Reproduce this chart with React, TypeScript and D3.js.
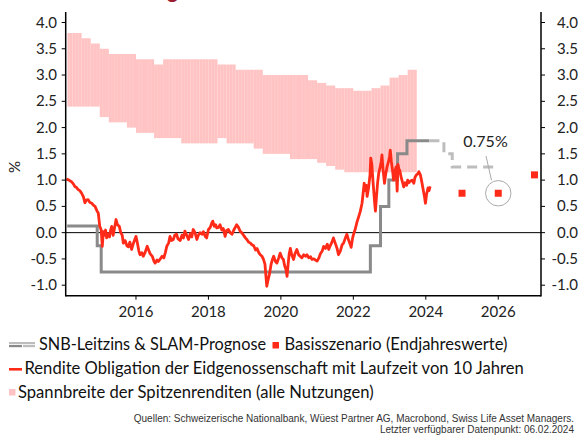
import { useEffect, useRef } from 'react'
import * as d3 from 'd3'

const W = 581
const H = 435

// Rendite Obligation der Eidgenossenschaft 10J (decimal year, %)
const bondDates = [
  2014.08, 2014.15, 2014.22, 2014.28, 2014.31, 2014.36, 2014.4, 2014.45, 2014.5, 2014.55, 2014.59, 2014.63,
  2014.68, 2014.72, 2014.78, 2014.83, 2014.87, 2014.92, 2014.96, 2015.0, 2015.04, 2015.07, 2015.1, 2015.13,
  2015.16, 2015.19, 2015.23, 2015.27, 2015.3, 2015.33, 2015.37, 2015.41, 2015.45, 2015.49, 2015.54, 2015.58,
  2015.62, 2015.65, 2015.7, 2015.75, 2015.79, 2015.83, 2015.88, 2015.93, 2016.0, 2016.04, 2016.08, 2016.11,
  2016.16, 2016.2, 2016.25, 2016.31, 2016.35, 2016.39, 2016.45, 2016.5, 2016.53, 2016.58, 2016.62, 2016.66,
  2016.72, 2016.77, 2016.81, 2016.85, 2016.9, 2016.94, 2016.98, 2017.03, 2017.07, 2017.12, 2017.16, 2017.22,
  2017.27, 2017.31, 2017.35, 2017.4, 2017.45, 2017.5, 2017.54, 2017.58, 2017.63, 2017.68, 2017.72, 2017.77,
  2017.82, 2017.86, 2017.91, 2017.95, 2018.0, 2018.05, 2018.09, 2018.12, 2018.16, 2018.2, 2018.23, 2018.28,
  2018.32, 2018.37, 2018.41, 2018.46, 2018.5, 2018.55, 2018.6, 2018.65, 2018.7, 2018.74, 2018.78, 2018.83,
  2018.88, 2018.92, 2018.97, 2019.02, 2019.06, 2019.11, 2019.16, 2019.2, 2019.25, 2019.3, 2019.34, 2019.39,
  2019.43, 2019.48, 2019.52, 2019.56, 2019.59, 2019.61, 2019.64, 2019.69, 2019.73, 2019.77, 2019.8, 2019.85,
  2019.89, 2019.94, 2019.98, 2020.03, 2020.07, 2020.1, 2020.14, 2020.17, 2020.2, 2020.23, 2020.26, 2020.3,
  2020.35, 2020.39, 2020.44, 2020.49, 2020.53, 2020.58, 2020.63, 2020.68, 2020.72, 2020.77, 2020.82, 2020.86,
  2020.91, 2020.95, 2021.0, 2021.05, 2021.09, 2021.14, 2021.18, 2021.23, 2021.28, 2021.32, 2021.36, 2021.41,
  2021.45, 2021.5, 2021.55, 2021.59, 2021.64, 2021.69, 2021.73, 2021.78, 2021.82, 2021.86, 2021.9, 2021.94,
  2021.98, 2022.02, 2022.05, 2022.1, 2022.15, 2022.19, 2022.24, 2022.27, 2022.3, 2022.33, 2022.36, 2022.38,
  2022.42, 2022.46, 2022.48, 2022.51, 2022.54, 2022.56, 2022.59, 2022.61, 2022.64, 2022.67, 2022.7, 2022.74,
  2022.77, 2022.79, 2022.82, 2022.86, 2022.89, 2022.93, 2022.97, 2023.0, 2023.02, 2023.05, 2023.08, 2023.11,
  2023.14, 2023.18, 2023.21, 2023.23, 2023.26, 2023.28, 2023.32, 2023.36, 2023.39, 2023.43, 2023.47, 2023.5,
  2023.53, 2023.57, 2023.62, 2023.67, 2023.7, 2023.74, 2023.78, 2023.81, 2023.85, 2023.88, 2023.92, 2023.96,
  2023.99, 2024.02, 2024.06, 2024.09, 2024.12,
]
const bondValues = [
  1.02, 1.0, 0.97, 0.92, 0.88, 0.86, 0.82, 0.8, 0.75, 0.68, 0.57, 0.62,
  0.63, 0.58, 0.56, 0.52, 0.5, 0.42, 0.37, 0.12, 0.05, -0.26, 0.02, -0.05,
  0.05, -0.1, -0.02, -0.08, 0.05, 0.12, -0.05, 0.1, 0.25, 0.15, 0.12, 0.0,
  -0.05, -0.2, -0.15, -0.25, -0.27, -0.18, -0.32, -0.2, -0.07, -0.2, -0.35, -0.42,
  -0.38, -0.45, -0.38, -0.26, -0.33, -0.4, -0.45, -0.55, -0.58, -0.52, -0.55, -0.51,
  -0.45, -0.48, -0.38, -0.26, -0.2, -0.07, -0.15, -0.13, -0.05, -0.03, -0.12, -0.15,
  -0.05, -0.1, 0.03, -0.05, -0.13, -0.02, -0.08, 0.06, 0.0, -0.13, -0.05, 0.0,
  -0.03, 0.02, -0.07, -0.1, 0.06, 0.1, 0.18, 0.22, 0.12, 0.15, 0.09, 0.1,
  0.15, 0.05, 0.08, -0.07, 0.04, 0.06, 0.0, -0.03, 0.05, 0.1, 0.15, 0.1,
  0.02, 0.0, -0.05, -0.1, -0.13, -0.18, -0.2, -0.23, -0.25, -0.33, -0.3, -0.38,
  -0.42, -0.45, -0.51, -0.6, -0.85, -1.02, -0.92, -0.77, -0.6, -0.5, -0.45, -0.55,
  -0.58, -0.48, -0.39, -0.48, -0.51, -0.62, -0.7, -0.83, -0.6, -0.4, -0.3, -0.42,
  -0.51, -0.4, -0.32, -0.42, -0.45, -0.48, -0.42, -0.45, -0.42, -0.48, -0.46, -0.51,
  -0.5, -0.52, -0.54, -0.48, -0.4, -0.35, -0.26, -0.3, -0.22, -0.32, -0.25, -0.18,
  -0.1, -0.2, -0.3, -0.42, -0.35, -0.23, -0.2, -0.1, -0.03, -0.12, -0.2, -0.28,
  -0.1, 0.0, 0.06, 0.2, 0.31, 0.4, 0.56, 0.75, 0.94, 0.8, 0.9, 0.69,
  0.85, 1.1, 1.42, 1.3, 1.0, 0.82, 0.55, 0.41, 0.7, 0.95, 1.13, 1.25,
  1.35, 1.48, 1.2, 0.94, 1.1, 1.25, 1.35, 1.45, 1.57, 1.35, 1.2, 1.0,
  1.15, 1.25, 0.79, 1.3, 1.2, 1.19, 1.05, 0.95, 0.87, 0.95, 0.9, 1.0,
  0.95, 0.98, 1.0, 0.94, 1.05, 1.1, 1.12, 1.16, 1.1, 1.0, 0.85, 0.7,
  0.56, 0.72, 0.85, 0.8, 0.88,
]

// SNB-Leitzins
const snbDates = [2014.1, 2014.93, 2015.04, 2022.47, 2022.75, 2022.98, 2023.22, 2023.48, 2024.1]
const snbValues = [0.125, -0.25, -0.75, -0.25, 0.5, 1.0, 1.5, 1.75, 1.75]

// SLAM-Prognose
const fcDates = [2024.1, 2024.5, 2024.73, 2026.0]
const fcValues = [1.75, 1.5, 1.25, 1.25]

// Basisszenario (Endjahreswerte)
const baseYears = [2025, 2026, 2027]
const baseValues = [0.75, 0.75, 1.1]

// Spannbreite der Spitzenrenditen, quarterly from 2014 Q1
const bandStart = 2014
const bandHigh = [
  3.8, 3.8, 3.7, 3.6, 3.5, 3.4, 3.4, 3.4, 3.3, 3.3, 3.2, 3.3, 3.3, 3.3, 3.3, 3.3,
  3.3, 3.2, 3.2, 3.1, 3.1, 3.1, 3.0, 3.0, 3.0, 3.0, 3.0, 2.9, 2.85, 2.8, 2.75, 2.75,
  2.7, 2.7, 2.75, 2.8, 2.95, 3.0, 3.1,
]
const bandLow = [
  2.4, 2.4, 2.4, 2.4, 2.2, 2.1, 2.1, 2.0, 1.9, 1.9, 1.8, 1.8, 1.8, 1.7, 1.7, 1.7,
  1.7, 1.8, 1.7, 1.7, 1.7, 1.6, 1.5, 1.5, 1.5, 1.4, 1.4, 1.4, 1.33, 1.27, 1.2, 1.15,
  1.15, 1.15, 1.15, 1.15, 1.15, 1.15, 1.15,
]

const yTicks = [-1, -0.5, 0, 0.5, 1, 1.5, 2, 2.5, 3, 3.5, 4]
const xTicks = [2016, 2018, 2020, 2022, 2024, 2026]

const RED = '#ff2b18'
const GREY = '#8a8a8a'
const LIGHTGREY = '#bdbdbd'
const PINK = '#ffc3c3'
const FONT = 'Lato, sans-serif'

export default function App() {
  const svgRef = useRef<SVGSVGElement>(null)

  useEffect(() => {
    if (!svgRef.current) return
    const svg = d3.select(svgRef.current)
    svg.selectAll('*').remove()

    const left = 65.7, right = 541, top = 12, bottom = 295.7
    const x = d3.scaleLinear().domain([2014.06, 2027.18]).range([left, right])
    const y = d3.scaleLinear().domain([-1.2, 4.2]).range([bottom, top])

    // title, cropped at the top edge as in the source
    svg.append('text').attr('x', 168).attr('y', -2).attr('fill', '#9b1b30')
      .attr('font-family', FONT).attr('font-size', '24px').attr('font-weight', '700')
      .attr('font-style', 'italic').text('g')

    // band
    const g = svg.append('g')
    bandHigh.forEach((hi, i) => {
      const t = bandStart + i * 0.25
      const x0 = Math.max(x(t), x(2014.11))
      const x1 = x(t + 0.25)
      g.append('rect').attr('x', x0).attr('y', y(hi))
        .attr('width', x1 - x0).attr('height', y(bandLow[i]) - y(hi))
        .attr('fill', PINK)
      for (let m = 1; m < 3; m++) {
        const xm = x(t + m / 12)
        if (xm > x0) g.append('line').attr('x1', xm).attr('x2', xm)
          .attr('y1', y(hi)).attr('y2', y(bandLow[i]))
          .attr('stroke', '#ffd2d2').attr('stroke-width', 0.6)
      }
    })

    // zero line
    svg.append('line').attr('x1', left).attr('x2', right).attr('y1', y(0)).attr('y2', y(0))
      .attr('stroke', '#000').attr('stroke-width', 1)

    const stepLine = d3.line<[number, number]>().curve(d3.curveStepAfter)
      .x(d => x(d[0])).y(d => y(d[1]))

    // SNB policy rate
    svg.append('path')
      .attr('d', stepLine(snbDates.map((t, i) => [t, snbValues[i]])))
      .attr('fill', 'none').attr('stroke', GREY).attr('stroke-width', 3)

    // forecast
    svg.append('path')
      .attr('d', stepLine(fcDates.map((t, i) => [t, fcValues[i]])))
      .attr('fill', 'none').attr('stroke', LIGHTGREY).attr('stroke-width', 3)
      .attr('stroke-dasharray', '10,6')

    // bond yield
    svg.append('path')
      .attr('d', d3.line<[number, number]>()
        .x(d => x(d[0])).y(d => y(d[1]))(bondDates.map((t, i) => [t, bondValues[i]])))
      .attr('fill', 'none').attr('stroke', RED).attr('stroke-width', 2.8)
      .attr('stroke-linejoin', 'round')

    // base scenario squares
    baseYears.forEach((t, i) => {
      svg.append('rect').attr('x', x(t) - 3.5).attr('y', y(baseValues[i]) - 3.5)
        .attr('width', 7).attr('height', 7).attr('fill', RED)
    })

    // annotation
    svg.append('circle').attr('cx', x(2026)).attr('cy', y(0.75)).attr('r', 12.7)
      .attr('fill', 'none').attr('stroke', '#aaa').attr('stroke-width', 1)
    svg.append('line').attr('x1', 486).attr('y1', 156).attr('x2', 491.5).attr('y2', y(0.75) - 13)
      .attr('stroke', '#aaa').attr('stroke-width', 1)
    svg.append('text').attr('x', 485.5).attr('y', 147).attr('text-anchor', 'middle')
      .attr('font-family', FONT).attr('font-size', '16px').attr('fill', '#222').text('0.75%')

    // axes
    const axisLine = (x1: number, y1: number, x2: number, y2: number) =>
      svg.append('line').attr('x1', x1).attr('y1', y1).attr('x2', x2).attr('y2', y2)
        .attr('stroke', '#000').attr('stroke-width', 1.5)
    axisLine(left, top, left, bottom + 0.75)
    axisLine(right, top, right, bottom + 0.75)
    axisLine(left, bottom, right, bottom)

    yTicks.forEach(v => {
      axisLine(left - 4, y(v), left, y(v)).attr('stroke-width', 1)
      axisLine(right, y(v), right + 4, y(v)).attr('stroke-width', 1)
      const lbl = v.toFixed(1)
      svg.append('text').attr('x', 57).attr('y', y(v) + 5).attr('text-anchor', 'end')
        .attr('font-family', FONT).attr('font-size', '15px').attr('fill', '#222').text(lbl)
      svg.append('text').attr('x', 578).attr('y', y(v) + 5).attr('text-anchor', 'end')
        .attr('font-family', FONT).attr('font-size', '15px').attr('fill', '#222').text(lbl)
    })
    xTicks.forEach(t => {
      axisLine(x(t), bottom, x(t), bottom + 4).attr('stroke-width', 1)
      svg.append('text').attr('x', x(t)).attr('y', 317).attr('text-anchor', 'middle')
        .attr('font-family', FONT).attr('font-size', '15px').attr('fill', '#222').text(String(t))
    })

    svg.append('text').attr('transform', `translate(20,${y(1.25)}) rotate(-90)`)
      .attr('text-anchor', 'middle').attr('font-family', FONT).attr('font-size', '15px')
      .attr('fill', '#222').text('%')

    // legend
    const lg = svg.append('g')
    const legText = (tx: number, ty: number, s: string, len?: number) => {
      const t = lg.append('text').attr('x', tx).attr('y', ty).attr('font-family', FONT)
        .attr('font-size', '16.6px').attr('fill', '#111').text(s)
      if (len) t.attr('textLength', len).attr('lengthAdjust', 'spacingAndGlyphs')
      return t
    }
    lg.append('rect').attr('x', 9).attr('y', 342).attr('width', 26).attr('height', 2.2).attr('fill', LIGHTGREY)
    lg.append('rect').attr('x', 9).attr('y', 345).attr('width', 13).attr('height', 2.2).attr('fill', GREY)
    lg.append('rect').attr('x', 23).attr('y', 345).attr('width', 12).attr('height', 2.2).attr('fill', LIGHTGREY)
    legText(39, 350, 'SNB-Leitzins & SLAM-Prognose', 227)
    lg.append('rect').attr('x', 272.5).attr('y', 342).attr('width', 6.5).attr('height', 6.5).attr('fill', RED)
    legText(284.5, 350, 'Basisszenario (Endjahreswerte)', 223)
    lg.append('rect').attr('x', 9).attr('y', 368).attr('width', 13).attr('height', 2.6).attr('fill', RED)
    legText(24.5, 374, 'Rendite Obligation der Eidgenossenschaft mit Laufzeit von 10 Jahren')
    lg.append('rect').attr('x', 9).attr('y', 389).attr('width', 6.5).attr('height', 6.5).attr('fill', PINK)
    legText(18, 398, 'Spannbreite der Spitzenrenditen (alle Nutzungen)')

    // sources
    svg.append('text').attr('x', 574).attr('y', 422).attr('text-anchor', 'end')
      .attr('font-family', '"Liberation Sans", Arial, sans-serif').attr('font-size', '10px').attr('fill', '#333')
      .text('Quellen: Schweizerische Nationalbank, Wüest Partner AG, Macrobond, Swiss Life Asset Managers.')
    svg.append('text').attr('x', 574).attr('y', 433).attr('text-anchor', 'end')
      .attr('font-family', '"Liberation Sans", Arial, sans-serif').attr('font-size', '10px').attr('fill', '#333')
      .text('Letzter verfügbarer Datenpunkt: 06.02.2024')
  }, [])

  return (
    <div style={{ position: 'absolute', left: 0, top: 0 }}>
      <svg ref={svgRef} width={W} height={H} style={{ display: 'block', background: '#fff' }} />
    </div>
  )
}
